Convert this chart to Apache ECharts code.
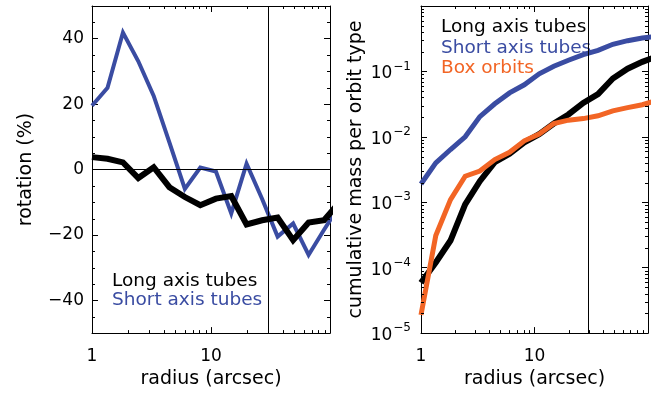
<!DOCTYPE html>
<html>
<head>
<meta charset="utf-8">
<script src="https://cdn.jsdelivr.net/npm/echarts@6/dist/echarts.min.js"></script>
<style>
  html, body { margin: 0; padding: 0; background: #fff; }
  #chart { width: 654px; height: 394px; }
</style>
</head>
<body>
<div id="chart"></div>
<script>
// Sampled radii (arcsec); the last sample lies just past the plotted range
const radius = [1, 1.35, 1.82, 2.45, 3.3, 4.47, 6.03, 8.13, 11.0, 14.8, 19.9, 26.9, 36.3, 49.0, 66.1, 89.1, 120];

// Rotation (%) per orbit family
const rotLong  = [3.8, 3.3, 2.2, -2.6, 0.7, -5.4, -8.4, -10.9, -8.9, -8.1, -16.8, -15.5, -14.7, -21.6, -16.2, -15.5, -10];
const rotShort = [19.5, 25.0, 41.9, 33.1, 22.5, 8.3, -5.9, 0.6, -0.6, -13.4, 1.8, -9.0, -20.5, -16.5, -26.1, -18.4, -11];

// Cumulative mass per orbit type
const massLong  = [5.9e-5, 1.2e-4, 2.6e-4, 9.3e-4, 2.1e-3, 4.1e-3, 5.5e-3, 8.2e-3, 0.011, 0.016, 0.022, 0.033, 0.045, 0.078, 0.11, 0.14, 0.17];
const massShort = [1.9e-3, 4.0e-3, 6.4e-3, 1.0e-2, 0.0204, 0.032, 0.047, 0.0625, 0.092, 0.12, 0.148, 0.18, 0.21, 0.26, 0.295, 0.325, 0.345];
const massBox   = [1.9e-5, 3.1e-4, 1.1e-3, 2.5e-3, 3.0e-3, 4.5e-3, 5.8e-3, 8.7e-3, 0.011, 0.016, 0.018, 0.019, 0.021, 0.025, 0.028, 0.031, 0.036];

// Tick values
const radiusLabels = [1, 10];
const radiusMinor = [2, 3, 4, 5, 6, 7, 8, 9, 20, 30, 40, 50, 60, 70, 80, 90];
const rotMajor = [-40, -20, 0, 20, 40];
const rotMinor = [-45, -35, -30, -25, -15, -10, -5, 5, 10, 15, 25, 30, 35, 45];
const massMantissas = [2, 3, 4, 5, 6, 7, 8, 9];
const massDecades = [1e-5, 1e-4, 1e-3, 1e-2, 1e-1];
const radiusMarker = 30;

const names = { long: 'Long axis tubes', short: 'Short axis tubes', box: 'Box orbits' };
const BLACK = '#000000', BLUE = '#3a4ca2', ORANGE = '#f26525';
const FONT = 'DejaVu Sans';

const massMinor = [];
massDecades.forEach(d => massMantissas.forEach(m => massMinor.push(+(m * d).toPrecision(3))));

const pairs = ys => radius.map((r, i) => [r, ys[i]]);
const crisp = v => Math.round(v) + 0.5;

function tickLine(x1, y1, x2, y2) {
  return { type: 'line', shape: { x1, y1, x2, y2 }, style: { stroke: '#000', lineWidth: 1 } };
}

// Short inward minor ticks on bottom/top edges of a panel
function xMinorSeries(xIdx, yIdx, yMin, yMax) {
  return {
    type: 'custom', xAxisIndex: xIdx, yAxisIndex: yIdx, silent: true, z: 5,
    data: radiusMinor.map(v => [v, yMin]),
    renderItem: (params, api) => {
      const v = api.value(0);
      const b = api.coord([v, yMin]);
      const t = api.coord([v, yMax]);
      const x = crisp(b[0]);
      return { type: 'group', children: [tickLine(x, b[1], x, b[1] - 3), tickLine(x, t[1], x, t[1] + 3)] };
    }
  };
}
// Short inward minor ticks on left/right edges of a panel
function yMinorSeries(xIdx, yIdx, values) {
  return {
    type: 'custom', xAxisIndex: xIdx, yAxisIndex: yIdx, silent: true, z: 5,
    encode: { x: 1, y: 0 },
    data: values.map(v => [v, 1]),
    renderItem: (params, api) => {
      const v = api.value(0);
      const l = api.coord([1, v]);
      const r = api.coord([100, v]);
      const y = crisp(l[1]);
      return { type: 'group', children: [tickLine(l[0], y, l[0] + 3, y), tickLine(r[0], y, r[0] - 3, y)] };
    }
  };
}

const axisLine = { show: true, onZero: false, lineStyle: { color: '#000', width: 1 } };
const majorTick = { show: true, inside: true, length: 6, lineStyle: { color: '#000', width: 1 } };
const labelStyle = { color: '#000', fontFamily: FONT, fontSize: 17 };
const nameStyle = { color: '#000', fontFamily: FONT, fontSize: 19 };

function radiusAxis(gridIndex, position, withLabels) {
  return {
    type: 'log', logBase: 10, min: 1, max: 100, gridIndex, position,
    axisLine, axisTick: majorTick, splitLine: { show: false },
    axisLabel: withLabels ? {
      ...labelStyle, margin: 15,
      customValues: radiusLabels,
      formatter: v => String(v)
    } : { show: false },
    name: withLabels ? 'radius (arcsec)' : '',
    nameLocation: 'middle', nameGap: 32, nameTextStyle: nameStyle
  };
}

function rotAxis(position, withLabels) {
  return {
    type: 'value', min: -50, max: 50, gridIndex: 0, position,
    axisLine, splitLine: { show: false },
    axisTick: { ...majorTick, customValues: rotMajor },
    axisLabel: withLabels ? { ...labelStyle, margin: 8, customValues: rotMajor,
      formatter: v => (v < 0 ? '\u2212' + Math.abs(v) : String(v)) } : { show: false },
    name: withLabels ? 'rotation (%)' : '',
    nameLocation: 'middle', nameGap: 56, nameTextStyle: nameStyle
  };
}

function massAxis(position, withLabels) {
  return {
    type: 'log', logBase: 10, min: 1e-5, max: 1, gridIndex: 1, position,
    axisLine, splitLine: { show: false }, axisTick: majorTick,
    axisLabel: withLabels ? {
      margin: 10,
      formatter: v => {
        const e = Math.round(Math.log10(v));
        return e === 0 ? '' : '{b|10}{s|\u2212' + Math.abs(e) + '}';
      },
      rich: {
        b: { fontFamily: FONT, fontSize: 17, color: '#000', lineHeight: 22, verticalAlign: 'bottom' },
        s: { fontFamily: FONT, fontSize: 12, color: '#000', lineHeight: 22, verticalAlign: 'top', padding: [0, 0, 6, 1] }
      }
    } : { show: false },
    name: withLabels ? 'cumulative mass per orbit type' : '',
    nameLocation: 'middle', nameGap: 55, nameTextStyle: nameStyle
  };
}

const thin = { color: '#000', width: 1, type: 'solid' };
const markLineBase = { silent: true, symbol: 'none', label: { show: false }, lineStyle: thin, animation: false };

function lineSeries(name, ys, color, width, xIdx, yIdx, extra) {
  return Object.assign({
    type: 'line', name, data: pairs(ys), xAxisIndex: xIdx, yAxisIndex: yIdx,
    showSymbol: false, symbol: 'none', clip: true, color,
    lineStyle: { color, width, cap: 'butt', join: 'miter' }, z: 3
  }, extra || {});
}

const legendText = { fontFamily: FONT, fontSize: 18.5 };

const option = {
  animation: false,
  backgroundColor: '#fff',
  textStyle: { fontFamily: FONT },
  grid: [
    { left: 92, top: 6, width: 238, height: 328 },
    { left: 421, top: 6, width: 227, height: 328 }
  ],
  xAxis: [
    radiusAxis(0, 'bottom', true),
    radiusAxis(0, 'top', false),
    radiusAxis(1, 'bottom', true),
    radiusAxis(1, 'top', false)
  ],
  yAxis: [
    rotAxis('left', true),
    rotAxis('right', false),
    massAxis('left', true),
    massAxis('right', false)
  ],
  legend: [
    {
      orient: 'vertical', left: 107, top: 272, itemWidth: 0, itemHeight: 16, itemGap: 0,
      icon: 'none', selectedMode: false, padding: 0,
      textStyle: { ...legendText, lineHeight: 16 },
      data: [
        { name: names.long, textStyle: { color: BLACK } },
        { name: names.short, textStyle: { color: BLUE } }
      ]
    },
    {
      orient: 'vertical', left: 436, top: 17, itemWidth: 0, itemHeight: 20.5, itemGap: 0,
      icon: 'none', selectedMode: false, padding: 0,
      textStyle: { ...legendText, lineHeight: 20.5 },
      data: [
        { name: names.long, textStyle: { color: BLACK } },
        { name: names.short, textStyle: { color: BLUE } },
        { name: names.box, textStyle: { color: ORANGE } }
      ]
    }
  ],
  series: [
    // Left panel: rotation
    lineSeries(names.short, rotShort, BLUE, 4, 0, 0, {
      markLine: Object.assign({}, markLineBase, { data: [{ xAxis: radiusMarker }, { yAxis: 0 }] })
    }),
    lineSeries(names.long, rotLong, BLACK, 6, 0, 0),
    xMinorSeries(0, 0, -50, 50),
    yMinorSeries(0, 0, rotMinor),
    // Right panel: cumulative mass
    lineSeries(names.long, massLong, BLACK, 6, 2, 2, {
      markLine: Object.assign({}, markLineBase, { data: [{ xAxis: radiusMarker }] })
    }),
    lineSeries(names.short, massShort, BLUE, 5, 2, 2),
    lineSeries(names.box, massBox, ORANGE, 5, 2, 2),
    xMinorSeries(2, 2, 1e-5, 1),
    yMinorSeries(2, 2, massMinor)
  ]
};

const chart = echarts.init(document.getElementById('chart'), null, { renderer: 'canvas' });
chart.setOption(option);
</script>
</body>
</html>
